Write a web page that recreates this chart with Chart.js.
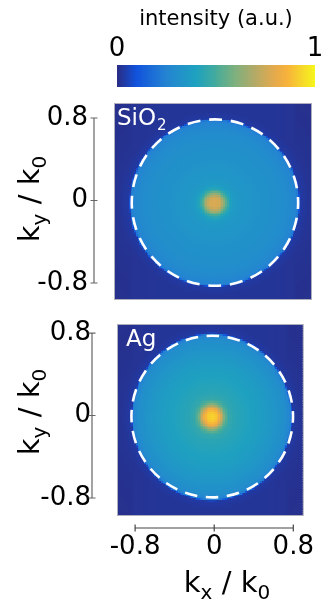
<!DOCTYPE html>
<html><head><meta charset="utf-8">
<script src="https://cdn.jsdelivr.net/npm/chart.js@4/dist/chart.umd.min.js"></script>
<style>
html,body{margin:0;padding:0;background:#fff;}
#wrap{position:relative;width:332px;height:604px;overflow:hidden;}
canvas{position:absolute;left:0;top:0;}
</style></head><body>
<div id="wrap">
<canvas id="cbar" width="332" height="604"></canvas>
<canvas id="top" width="332" height="604"></canvas>
<canvas id="bot" width="332" height="604"></canvas>
</div>
<script>
// ---------------- data ----------------
const colorbarTicks = [0, 1];
const kTicks = [-0.8, 0, 0.8];
const panelNames = ['SiO', 'Ag'];
// radial intensity profile |k - k_center| (in k0)
const radiusSamples = [0, 0.05, 0.08, 0.11, 0.14, 0.18, 0.24, 0.3, 0.4, 0.5, 0.6, 0.7, 0.75, 0.78, 0.8, 0.805, 0.815, 0.9, 1.0, 1.4];
const sio2Profile   = [0.78, 0.76, 0.68, 0.54, 0.43, 0.37, 0.35, 0.34, 0.33, 0.32, 0.31, 0.29, 0.27, 0.25, 0.22, 0.14, 0.04, 0.025, 0.02, 0.015];
const agProfile     = [0.93, 0.90, 0.83, 0.68, 0.54, 0.46, 0.43, 0.42, 0.40, 0.38, 0.35, 0.32, 0.30, 0.27, 0.23, 0.14, 0.04, 0.025, 0.02, 0.015];
// background level outside the disk, across kx
const kxSamples         = [-1.0, -0.92, -0.86, -0.8, -0.5, 0, 0.5, 0.72, 0.78, 0.84, 0.9];
const backgroundProfile = [0.003, 0.007, 0.016, 0.024, 0.028, 0.028, 0.028, 0.024, 0.016, 0.007, 0.003];
const naRadius = 0.8;
const sio2Center = [-0.02, -0.02];
const agCenter = [-0.02, -0.01];
// axis ranges
const kxRange = [-0.973, 0.896];
const kyRangeTop = [-0.955, 0.936];
const kyRangeBot = [-0.965, 0.878];

// ---------------- colormap (parula-like) ----------------
const cmapStops  = [0, 0.1, 0.25, 0.4, 0.5, 0.6, 0.7, 0.8, 0.86, 1];
const cmapColors = ['#2b2a7e','#1152dc','#2483d2','#1ea1c0','#44ab9c','#7eb07e','#b4aa66','#e6aa4c','#f7b23c','#f6f61c'];
const cmapRGB = cmapColors.map(h => [parseInt(h.slice(1,3),16), parseInt(h.slice(3,5),16), parseInt(h.slice(5,7),16)]);
function colormap(v) {
  v = Math.max(0, Math.min(1, v));
  for (let i = 1; i < cmapStops.length; i++) {
    if (v <= cmapStops[i]) {
      const t = (v - cmapStops[i-1]) / (cmapStops[i] - cmapStops[i-1]);
      const a = cmapRGB[i-1], b = cmapRGB[i];
      return 'rgb(' + Math.round(a[0]+t*(b[0]-a[0])) + ',' + Math.round(a[1]+t*(b[1]-a[1])) + ',' + Math.round(a[2]+t*(b[2]-a[2])) + ')';
    }
  }
  return cmapColors[cmapColors.length-1];
}
function lerpArr(xs, ys, v) {
  if (v <= xs[0]) return ys[0];
  for (let i = 1; i < xs.length; i++) {
    if (v <= xs[i]) { const t = (v - xs[i-1]) / (xs[i] - xs[i-1]); return ys[i-1] + t * (ys[i] - ys[i-1]); }
  }
  return ys[ys.length-1];
}
const N = 110;
function buildCells(profile, center, xr, yr) {
  const dx = (xr[1]-xr[0])/N, dy = (yr[1]-yr[0])/N, out = [];
  for (let i = 0; i < N; i++) for (let j = 0; j < N; j++) {
    const x = xr[0] + (i+0.5)*dx, y = yr[0] + (j+0.5)*dy;
    const r = Math.hypot(x-center[0], y-center[1]);
    const v = Math.max(lerpArr(radiusSamples, profile, r), lerpArr(kxSamples, backgroundProfile, x));
    out.push({x, y, v, dx, dy});
  }
  return out;
}

Chart.defaults.font.family = 'DejaVu Sans';
Chart.defaults.color = '#000';

const heatPlugin = {
  id: 'heat',
  beforeDatasetsDraw(chart) {
    const {ctx, chartArea: a, scales: {x, y}} = chart;
    ctx.save();
    ctx.beginPath(); ctx.rect(a.left, a.top, a.right-a.left, a.bottom-a.top); ctx.clip();
    for (const c of chart.data.datasets[0].data) {
      const px0 = x.getPixelForValue(c.x - c.dx/2), px1 = x.getPixelForValue(c.x + c.dx/2);
      const py0 = y.getPixelForValue(c.y + c.dy/2), py1 = y.getPixelForValue(c.y - c.dy/2);
      ctx.fillStyle = colormap(c.v);
      const l = Math.floor(px0), t = Math.floor(py0);
      ctx.fillRect(l, t, Math.ceil(px1) - l, Math.ceil(py1) - t);
    }
    ctx.restore();
    ctx.save();
    ctx.strokeStyle = 'rgba(140,140,160,0.7)'; ctx.lineWidth = 1;
    ctx.strokeRect(a.left-0.5, a.top-0.5, a.right-a.left+1, a.bottom-a.top+1);
    ctx.restore();
  },
  afterDatasetsDraw(chart, args, opts) {
    const {ctx, scales: {x, y}} = chart;
    const cx = x.getPixelForValue(opts.center[0]), cy = y.getPixelForValue(opts.center[1]);
    const r = (x.getPixelForValue(opts.center[0] + naRadius) - cx + cy - y.getPixelForValue(opts.center[1] + naRadius)) / 2;
    const period = 2*Math.PI*r/24, dash = period*0.6;
    ctx.save();
    ctx.strokeStyle = '#fff'; ctx.lineWidth = 2.6;
    ctx.setLineDash([dash, period-dash]); ctx.lineDashOffset = dash/2;
    ctx.beginPath(); ctx.arc(cx, cy, r, 0, 2*Math.PI); ctx.stroke();
    ctx.restore();
    const a = chart.chartArea;
    ctx.save(); ctx.fillStyle = '#fff'; ctx.textBaseline = 'alphabetic'; ctx.textAlign = 'left';
    ctx.font = '23px "DejaVu Sans"';
    ctx.fillText(opts.label, a.left + opts.labelDx, a.top + opts.labelDy);
    if (opts.sub) {
      const w = ctx.measureText(opts.label).width;
      ctx.font = '15px "DejaVu Sans"';
      ctx.fillText(opts.sub, a.left + opts.labelDx + w + 1, a.top + opts.labelDy + 5);
    }
    ctx.restore();
  },
  afterDraw(chart, args, opts) {
    const {ctx, scales: {x, y}} = chart;
    ctx.save();
    ctx.strokeStyle = '#666'; ctx.lineWidth = 1.2;
    const ax = opts.yAxisX;
    ctx.beginPath();
    ctx.moveTo(ax, y.getPixelForValue(kTicks[0])); ctx.lineTo(ax, y.getPixelForValue(kTicks[kTicks.length-1]));
    for (const t of kTicks) { const py = y.getPixelForValue(t); ctx.moveTo(ax-3.5, py); ctx.lineTo(ax+3.5, py); }
    ctx.stroke();
    if (opts.xAxisY) {
      const ay = opts.xAxisY;
      ctx.strokeStyle = '#444';
      ctx.beginPath();
      ctx.moveTo(x.getPixelForValue(kTicks[0]), ay); ctx.lineTo(x.getPixelForValue(kTicks[kTicks.length-1]), ay);
      for (const t of kTicks) { const px = x.getPixelForValue(t); ctx.moveTo(px, ay-3.5); ctx.lineTo(px, ay+3.5); }
      ctx.stroke();
    }
    ctx.restore();
    drawSubText(ctx, [['k',0],['y',1],[' / k',0],['0',1]], 39, opts.yTitleY, true);
    if (opts.xAxisY) drawSubText(ctx, [['k',0],['x',1],[' / k',0],['0',1]], 227, 592, false);
  }
};
function drawSubText(ctx, parts, px, py, rotated) {
  ctx.save();
  ctx.fillStyle = '#000'; ctx.textBaseline = 'alphabetic'; ctx.textAlign = 'left';
  const fMain = '29px "DejaVu Sans"', fSub = '20px "DejaVu Sans"';
  let total = 0;
  for (const [t, s] of parts) { ctx.font = s ? fSub : fMain; total += ctx.measureText(t).width; }
  ctx.translate(px, py);
  if (rotated) ctx.rotate(-Math.PI/2);
  let cur = -total/2;
  for (const [t, s] of parts) {
    ctx.font = s ? fSub : fMain;
    ctx.fillText(t, cur, s ? 7 : 0);
    cur += ctx.measureText(t).width;
  }
  ctx.restore();
}

function panelChart(id, cells, yr, pad, yWidth, opts, showX) {
  return new Chart(document.getElementById(id), {
    type: 'scatter',
    data: { datasets: [{ data: cells, pointRadius: 0, pointHoverRadius: 0 }] },
    options: {
      responsive: false, animation: false, devicePixelRatio: 1,
      events: [],
      layout: { padding: pad },
      plugins: { legend: {display:false}, tooltip: {enabled:false}, heat: opts },
      scales: {
        x: {
          type: 'linear', min: kxRange[0], max: kxRange[1], display: showX, position: 'bottom',
          afterBuildTicks: s => { s.ticks = kTicks.map(v => ({value: v})); },
          afterFit: s => { s.height = showX ? 89 : 0; },
          grid: { display: false, drawTicks: false }, border: { display: false },
          ticks: { padding: 17, maxRotation: 0, autoSkip: false, font: { size: 26 }, color: '#000', callback: v => String(v) }
        },
        y: {
          type: 'linear', min: yr[0], max: yr[1],
          afterBuildTicks: s => { s.ticks = kTicks.map(v => ({value: v})); },
          afterFit: s => { s.width = yWidth; },
          grid: { display: false, drawTicks: false }, border: { display: false },
          ticks: { padding: 27, autoSkip: false, font: { size: 26 }, color: '#000', callback: v => String(v) }
        }
      }
    },
    plugins: [heatPlugin]
  });
}

panelChart('top', buildCells(sio2Profile, sio2Center, kxRange, kyRangeTop), kyRangeTop,
  {top: 104, left: 0, right: 21, bottom: 305}, 115,
  {center: sio2Center, label: panelNames[0], sub: '2', labelDx: 2, labelDy: 21, yAxisX: 94, yTitleY: 199}, false);
panelChart('bot', buildCells(agProfile, agCenter, kxRange, kyRangeBot), kyRangeBot,
  {top: 325, left: 0, right: 20, bottom: 0}, 118,
  {center: agCenter, label: panelNames[1], sub: '', labelDx: 8, labelDy: 21, yAxisX: 92, yTitleY: 412, xAxisY: 528}, true);

// ---------------- colorbar ----------------
const cbarPlugin = {
  id: 'cbarcells',
  beforeDatasetsDraw(chart) {
    const {ctx, chartArea: a, scales: {x}} = chart;
    const M = 200;
    for (let i = 0; i < M; i++) {
      const v0 = colorbarTicks[0] + (colorbarTicks[1]-colorbarTicks[0])*i/M;
      const v1 = colorbarTicks[0] + (colorbarTicks[1]-colorbarTicks[0])*(i+1)/M;
      const l = Math.floor(x.getPixelForValue(v0));
      ctx.fillStyle = colormap((v0+v1)/2);
      ctx.fillRect(l, a.top, Math.ceil(x.getPixelForValue(v1)) - l, a.bottom - a.top);
    }
  }
};
new Chart(document.getElementById('cbar'), {
  type: 'scatter',
  data: { datasets: [{ data: [], pointRadius: 0 }] },
  options: {
    responsive: false, animation: false, devicePixelRatio: 1, events: [],
    layout: { padding: { top: 0, left: 117, right: 17, bottom: 517 } },
    plugins: { legend: {display:false}, tooltip: {enabled:false} },
    scales: {
      x: {
        type: 'linear', position: 'top', min: colorbarTicks[0], max: colorbarTicks[1],
        afterBuildTicks: s => { s.ticks = colorbarTicks.map(v => ({value: v})); },
        afterFit: s => { s.height = 65; },
        grid: { display: false, drawTicks: false }, border: { display: false },
        ticks: { padding: 0, maxRotation: 0, autoSkip: false, font: { size: 26 }, color: '#000', callback: v => String(v) },
        title: { display: true, text: 'intensity (a.u.)', font: { size: 21 }, color: '#000', padding: { top: 7, bottom: 0 } }
      },
      y: { display: false, min: 0, max: 1 }
    }
  },
  plugins: [cbarPlugin]
});
</script>
</body></html>
